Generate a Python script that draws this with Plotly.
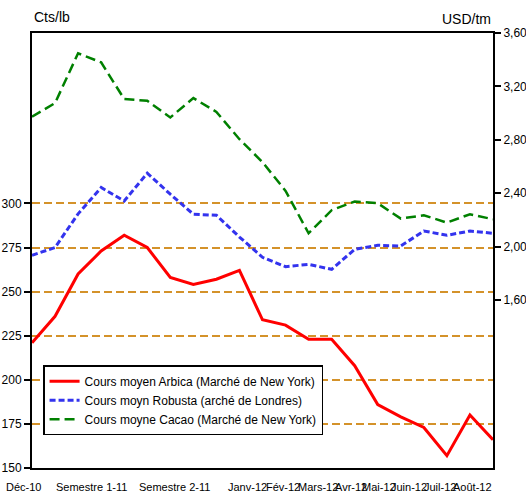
import plotly.graph_objects as go

# ---- data ----
periods = list(range(21))  # 21 monthly observations Déc-10 .. Août-12
arabica = [221, 236, 260, 273, 282, 275, 258, 254, 257, 262, 234, 231, 223, 223, 208, 186, 179, 173, 157, 180, 166]
robusta = [1934, 1992, 2245, 2442, 2341, 2549, 2392, 2242, 2234, 2071, 1919, 1849, 1866, 1829, 1979, 2009, 2004, 2116, 2084, 2116, 2099]
cacao = [2972, 3075, 3448, 3380, 3105, 3092, 2967, 3112, 3009, 2804, 2632, 2417, 2099, 2272, 2337, 2324, 2209, 2234, 2179, 2242, 2204]
x_labels = ["Déc-10", "Semestre 1-11", "Semestre 2-11", "Janv-12", "Fév-12", "Mars-12",
            "Avr-12", "Mai-12", "Juin-12", "Juil-12", "Août-12"]
left_ticks = [150, 175, 200, 225, 250, 275, 300]
right_ticks = [1600, 2000, 2400, 2800, 3200, 3600]

names = ["Cours moyen Arbica (Marché de New York)",
         "Cours moyn Robusta (arché de Londres)",
         "Cours moyne Cacao (Marché de New York)"]

# layout-only positions for category labels (in x data units, 0..20)
label_pos = [-0.39, 2.56, 6.2, 9.37, 10.89, 12.41, 13.84, 15.05, 16.36, 17.7, 19.09]
X_MAX = 20

FONT = "Liberation Sans, Arial, sans-serif"

fig = go.Figure()
fig.add_trace(go.Scatter(x=periods, y=arabica, name=names[0], mode="lines",
                         line=dict(color="#FF0000", width=3), yaxis="y"))
fig.add_trace(go.Scatter(x=periods, y=robusta, name=names[1], mode="lines",
                         line=dict(color="#3333EE", width=3, dash="6px,3px"), yaxis="y2"))
fig.add_trace(go.Scatter(x=periods, y=cacao, name=names[2], mode="lines",
                         line=dict(color="#008000", width=2.5, dash="10px,5px"), yaxis="y2"))

annotations = []
for lab, pos in zip(x_labels, label_pos):
    annotations.append(dict(x=pos / X_MAX, y=0, xref="paper", yref="paper", text=lab,
                            showarrow=False, xanchor="center", yanchor="middle", yshift=-19,
                            font=dict(size=11, color="#000", family=FONT)))
annotations.append(dict(x=0, y=1, xref="paper", yref="paper", text="Cts/lb", showarrow=False,
                        xanchor="left", yanchor="bottom", yshift=6, xshift=0,
                        font=dict(size=14, color="#000", family=FONT)))
annotations.append(dict(x=1, y=1, xref="paper", yref="paper", text="USD/tm", showarrow=False,
                        xanchor="right", yanchor="bottom", yshift=4, xshift=0,
                        font=dict(size=14, color="#000", family=FONT)))

fig.update_layout(
    width=526, height=499,
    margin=dict(l=32, r=33, t=33, b=31, autoexpand=False),
    paper_bgcolor="white", plot_bgcolor="white",
    font=dict(family=FONT, size=12, color="#000"),
    showlegend=True,
    legend=dict(x=0.024, y=0.236, xanchor="left", yanchor="top",
                bgcolor="white", bordercolor="#000", borderwidth=1.5,
                font=dict(size=12, family=FONT), tracegroupgap=0,
                itemwidth=30),
    xaxis=dict(range=[0, X_MAX], showticklabels=False, ticks="", showgrid=False,
               automargin=False,
               zeroline=False, showline=True, linecolor="#000", linewidth=2, mirror=True),
    yaxis=dict(range=[150, 396.6], tickvals=left_ticks, ticks="outside", ticklen=6,
               tickcolor="#000", tickwidth=1.5, automargin=False,
               showgrid=True, gridcolor="#D4922A", griddash="8px,4px", gridwidth=1.5,
               zeroline=False, showline=True, linecolor="#000", linewidth=2,
               tickfont=dict(size=12, family=FONT)),
    yaxis2=dict(range=[340, 3600], tickvals=right_ticks, tickformat=",", ticks="outside",
                ticklen=6, tickcolor="#000", tickwidth=1.5, automargin=False,
                overlaying="y", side="right", showgrid=False, zeroline=False,
                showline=True, linecolor="#000", linewidth=2,
                tickfont=dict(size=12, family=FONT)),
    annotations=annotations,
)

fig.write_html("out.html", config={"displayModeBar": False},
               post_script="document.body.style.margin='0';")
